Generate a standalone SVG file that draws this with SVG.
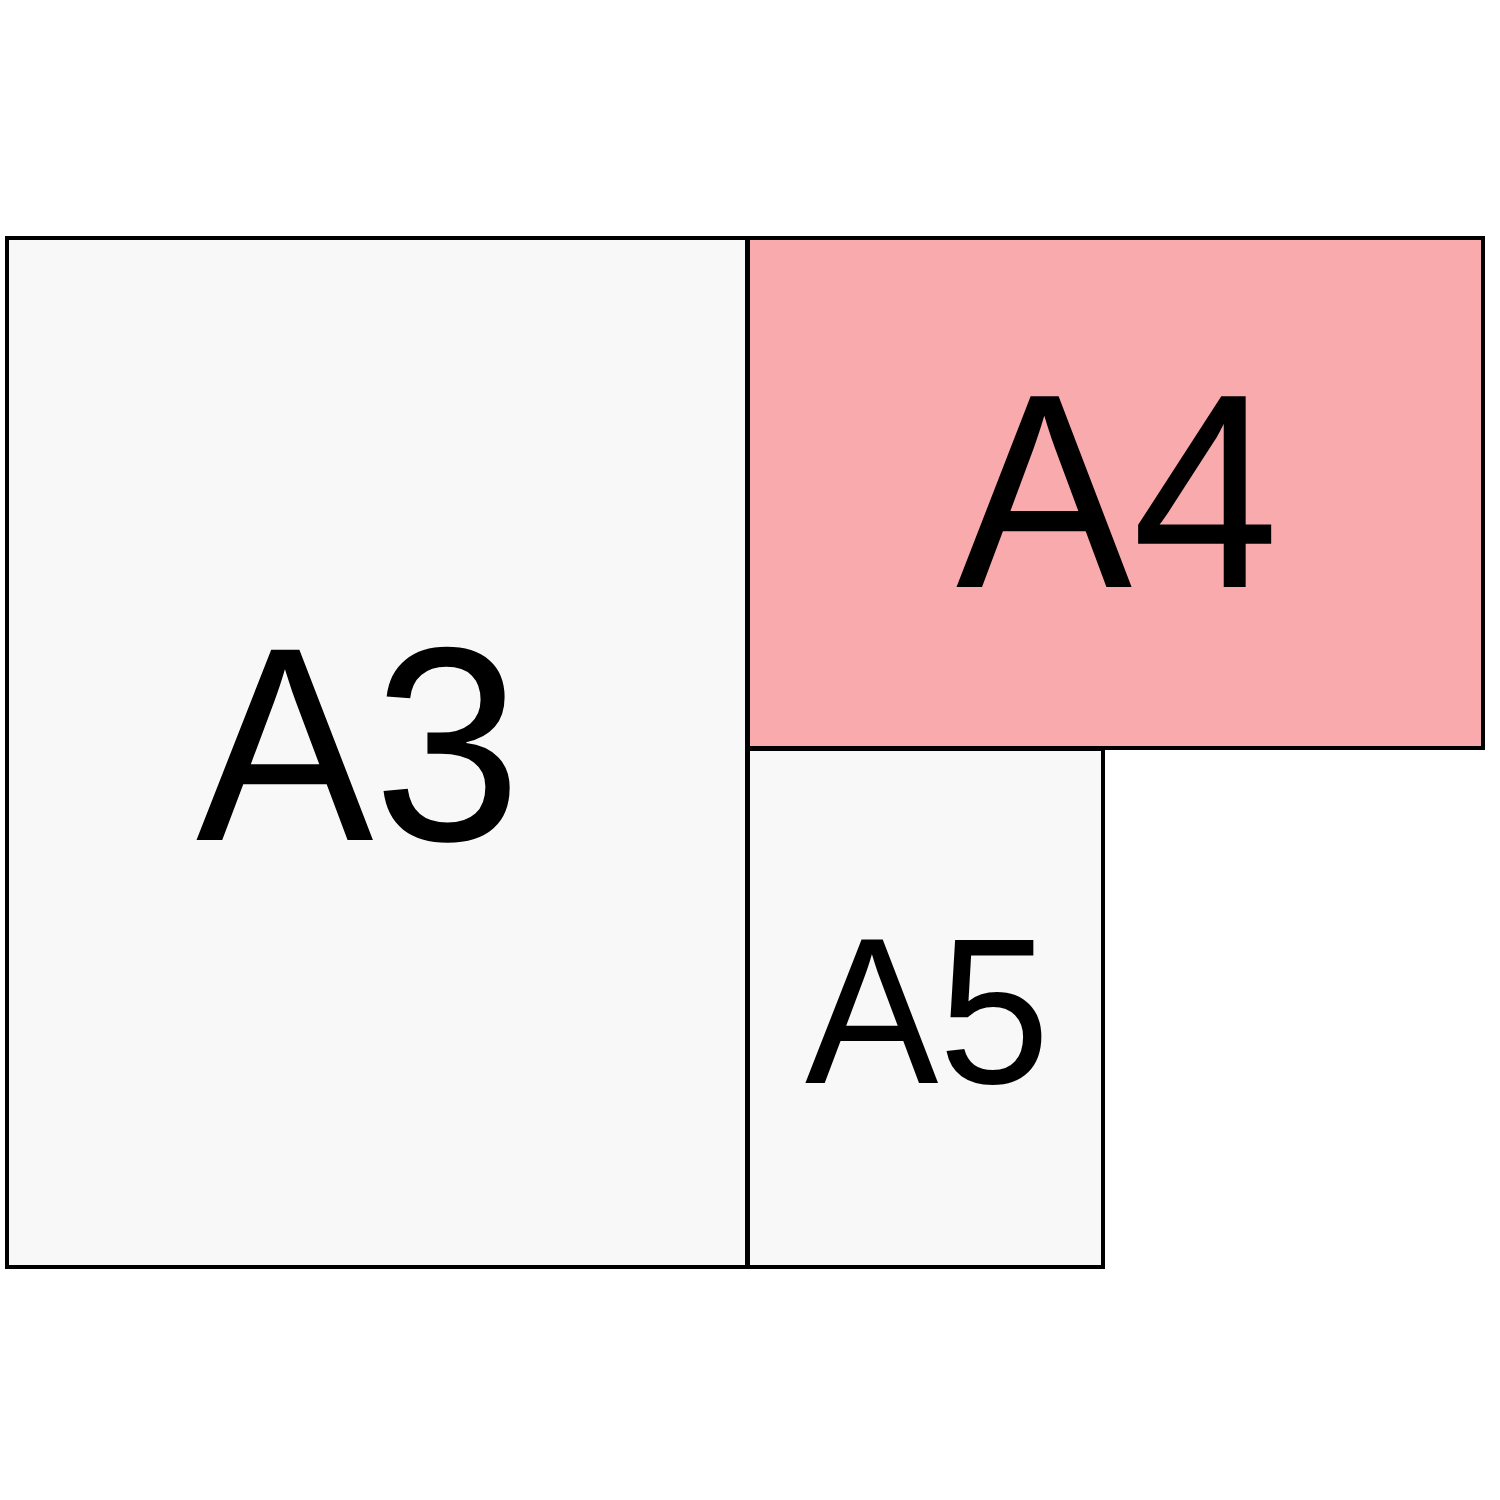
<svg xmlns="http://www.w3.org/2000/svg" width="1500" height="1500" viewBox="0 0 1500 1500">
<style>
.sheet{stroke:#000;stroke-width:4}
.grey{fill:#f8f8f8}
.pink{fill:#f9aaac}
.lbl{font-family:"Liberation Sans",Arial,sans-serif;fill:#000}
</style>
<rect width="1500" height="1500" fill="#fff"/>
<g id="A3">
<rect class="sheet grey" x="7" y="238" width="740" height="1029"/>
<text class="lbl" transform="translate(196 840) scale(1 1.04)" font-size="266">A3</text>
</g>
<g id="A4">
<rect class="sheet pink" x="748" y="238" width="735" height="510"/>
<text class="lbl" transform="translate(956 587) scale(1 1.05)" font-size="264">A4</text>
</g>
<g id="A5">
<rect class="sheet grey" x="748" y="749" width="355" height="518"/>
<text class="lbl" transform="translate(805 1083) scale(1 1.04)" font-size="200">A5</text>
</g>
<g id="connectors"/>
</svg>
